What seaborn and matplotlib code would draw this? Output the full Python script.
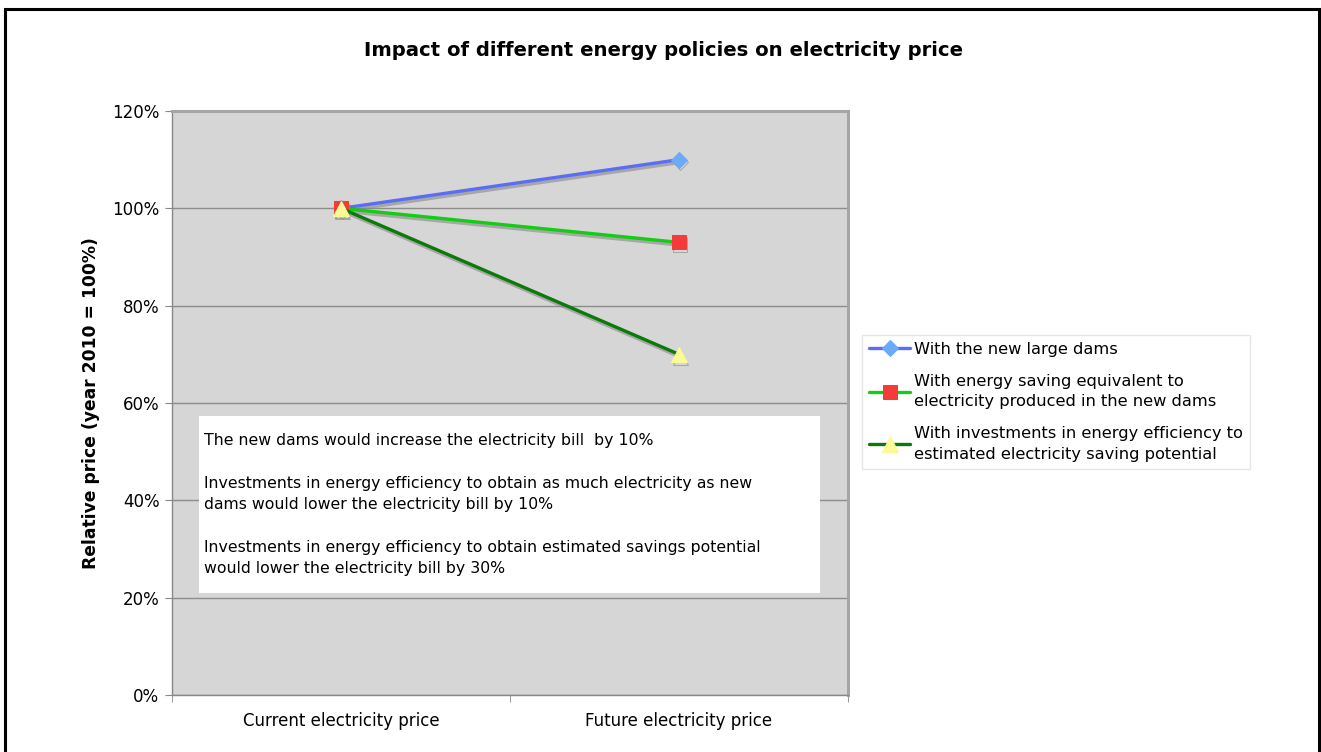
import matplotlib
matplotlib.use("Agg")
from matplotlib import pyplot as plt
from matplotlib import patches
from matplotlib import patheffects as pe
from matplotlib.ticker import PercentFormatter, FixedLocator
import numpy as np
import pandas as pd
import seaborn as sns

# data
stages = ['Current electricity price', 'Future electricity price']
policies = ['With the new large dams',
            'With energy saving equivalent to\nelectricity produced in the new dams',
            'With investments in energy efficiency to\nestimated electricity saving potential']
dams = [100, 110]
saving = [100, 93]
efficiency = [100, 70]
yticks = [0, 20, 40, 60, 80, 100, 120]

note = ('The new dams would increase the electricity bill  by 10%\n\n'
        'Investments in energy efficiency to obtain as much electricity as new\n'
        'dams would lower the electricity bill by 10%\n\n'
        'Investments in energy efficiency to obtain estimated savings potential\n'
        'would lower the electricity bill by 30%')

sns.set_style('white')
plt.rcParams['font.family'] = ['DejaVu Sans']
plt.rcParams['text.color'] = 'black'
plt.rcParams['axes.labelcolor'] = 'black'
plt.rcParams['xtick.labelcolor'] = 'black'
plt.rcParams['ytick.labelcolor'] = 'black'

line_cols = ['#5a6ef2', '#14cc14', '#0a7a0a']
face_cols = ['#6aaafa', '#f53a3a', '#fafa96']
markers = ['D', 's', '^']
msizes = [8, 10, 11]

fig = plt.figure(figsize=(13.21, 7.52), dpi=100)
ax = fig.add_axes([172 / 1321, 1 - 695 / 752, 676 / 1321, 584 / 752])
ax.set_facecolor('#d6d6d6')

shadow = [pe.SimpleLineShadow(offset=(1, -2), shadow_color='#888888', alpha=0.6), pe.Normal()]
for vals, name, lc, fc, mk, ms in zip([dams, saving, efficiency], policies, line_cols, face_cols, markers, msizes):
    df = pd.DataFrame({'stage': stages, 'price': vals})
    sns.lineplot(data=df, x='stage', y='price', ax=ax, color=lc, lw=2.4, marker=mk,
                 markersize=ms, markerfacecolor=fc, markeredgecolor=fc, label=name,
                 path_effects=shadow, sort=False, zorder=3)

handles, labels = ax.get_legend_handles_labels()
if ax.get_legend() is not None:
    ax.get_legend().remove()

ax.set_xlim(-0.5, 1.5)
ax.set_ylim(0, 120)
ax.set_yticks(yticks)
ax.yaxis.set_major_formatter(PercentFormatter(decimals=0))
ax.yaxis.grid(True, color='#8c8c8c', lw=1)
ax.set_axisbelow(True)
ax.tick_params(axis='y', length=5, color='#888888', labelsize=12, pad=4, direction='out', left=True)
ax.tick_params(axis='x', which='major', length=0, labelsize=12, pad=12)
ax.xaxis.set_minor_locator(FixedLocator([-0.5, 0.5, 1.5]))
ax.tick_params(axis='x', which='minor', length=5, color='#888888', direction='out', bottom=True)
ax.set_xlabel('')
ax.set_ylabel('Relative price (year 2010 = 100%)', fontsize=12.3, fontweight='bold')
ax.yaxis.set_label_coords(-0.106, 0.5)

for side in ['left', 'bottom']:
    ax.spines[side].set_color('#888888')
    ax.spines[side].set_linewidth(1)
for side in ['top', 'right']:
    ax.spines[side].set_color('#a6a6a6')
    ax.spines[side].set_linewidth(2.2)

# white note box
ax.add_patch(patches.Rectangle((0.040, 0.175), 0.919, 0.303, transform=ax.transAxes,
                               facecolor='white', edgecolor='none', zorder=4))
ax.text(0.047, 0.448, note, transform=ax.transAxes, fontsize=11.3, va='top', ha='left',
        linespacing=1.52, zorder=5)

fig.text(0.5025, 1 - 50 / 752, 'Impact of different energy policies on electricity price',
         ha='center', va='center', fontsize=14.1, fontweight='bold')

leg = fig.legend(handles, labels, loc='upper left',
                 bbox_to_anchor=(862 / 1321, 1 - 335 / 752), frameon=True, fancybox=False,
                 edgecolor='#e6e6e6', fontsize=11.7, handlelength=2.55, labelspacing=1.05,
                 borderpad=0.42, borderaxespad=0, handletextpad=0.22, framealpha=1)
for h in leg.legend_handles:
    h.set_path_effects([])
for t in leg.get_texts():
    t.set_linespacing(1.45)

fig.add_artist(patches.Rectangle((5 / 1321, -0.02), 1314 / 1321, 1.02 - 9 / 752,
                                 transform=fig.transFigure, fill=False, edgecolor='black',
                                 lw=2.2, clip_on=False))

fig.savefig('out.png', dpi=100)
